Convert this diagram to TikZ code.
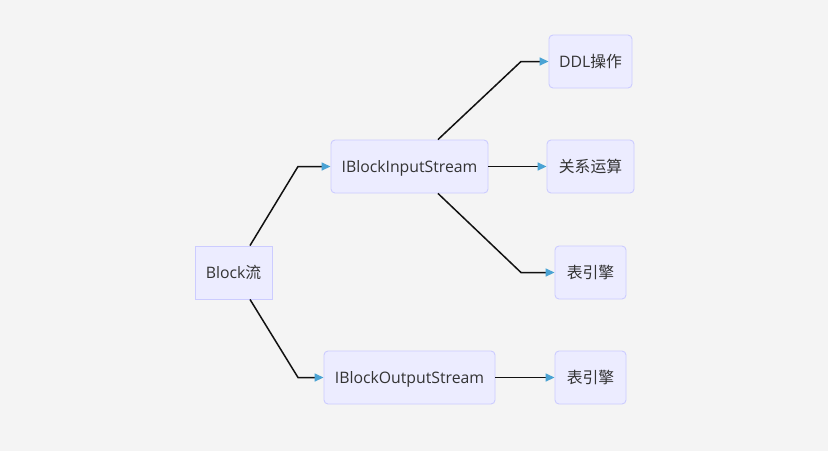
\documentclass[tikz,border=0pt]{standalone}
\usepackage{fontspec}
\setmainfont{Open Sans}
\newfontfamily\cjk{Noto Sans CJK SC}
\usetikzlibrary{arrows.meta,calc}
\definecolor{bgc}{HTML}{F4F4F4}
\definecolor{nodefill}{HTML}{ECECFF}
\definecolor{nodeline}{HTML}{CCCCFF}
\definecolor{tipblue}{HTML}{4AA3D4}
\definecolor{linec}{HTML}{111111}
\definecolor{txt}{HTML}{333333}
\tikzset{
  box/.style={draw=nodeline, fill=nodefill, line width=0.9pt, rounded corners=4pt,
    inner sep=0pt, text height=12.5pt, text depth=0pt,
    font=\fontsize{15.8}{18}\selectfont, text=txt},
  sqbox/.style={box, rounded corners=0pt},
  conn/.style={draw=linec, line width=1.5pt,
    -{Triangle[length=9pt,width=8pt,color=tipblue]}},
}
\begin{document}
\begin{tikzpicture}[x=1pt,y=-1pt]
\fill[bgc] (0,0) rectangle (828,451);
\useasboundingbox (0,0) rectangle (828,451);
\node[sqbox, minimum width=77pt, minimum height=53pt] (blk) at (233.5,272.5) {Block{\cjk 流}};
\node[box, minimum width=157pt, minimum height=53pt] (in) at (409.5,166.5) {IBlockInputStream};
\node[box, minimum width=171pt, minimum height=53pt] (out) at (409.5,377.5) {IBlockOutputStream};
\node[box, minimum width=83pt, minimum height=53pt] (ddl) at (590.5,61.5) {DDL{\cjk 操作}};
\node[box, minimum width=87pt, minimum height=53pt] (rel) at (590.5,166.5) {\cjk 关系运算};
\node[box, minimum width=71pt, minimum height=53pt] (te1) at (590.5,272.5) {\cjk 表引擎};
\node[box, minimum width=71pt, minimum height=53pt] (te2) at (590.5,377.5) {\cjk 表引擎};
\coordinate (b1) at (298,166.5);
\coordinate (b2) at (298,377.5);
\coordinate (b3) at (521,61.5);
\coordinate (b4) at (521,272.5);
\draw[conn] ([xshift=16.5pt]blk.north) -- (b1) -- (in.west);
\draw[conn] ([xshift=16.5pt]blk.south) -- (b2) -- (out.west);
\draw[conn] ([xshift=28.5pt]in.north) -- (b3) -- (ddl.west);
\draw[conn] (in.east) -- (rel.west);
\draw[conn] ([xshift=28.5pt]in.south) -- (b4) -- (te1.west);
\draw[conn] (out.east) -- (te2.west);
\end{tikzpicture}
\end{document}
